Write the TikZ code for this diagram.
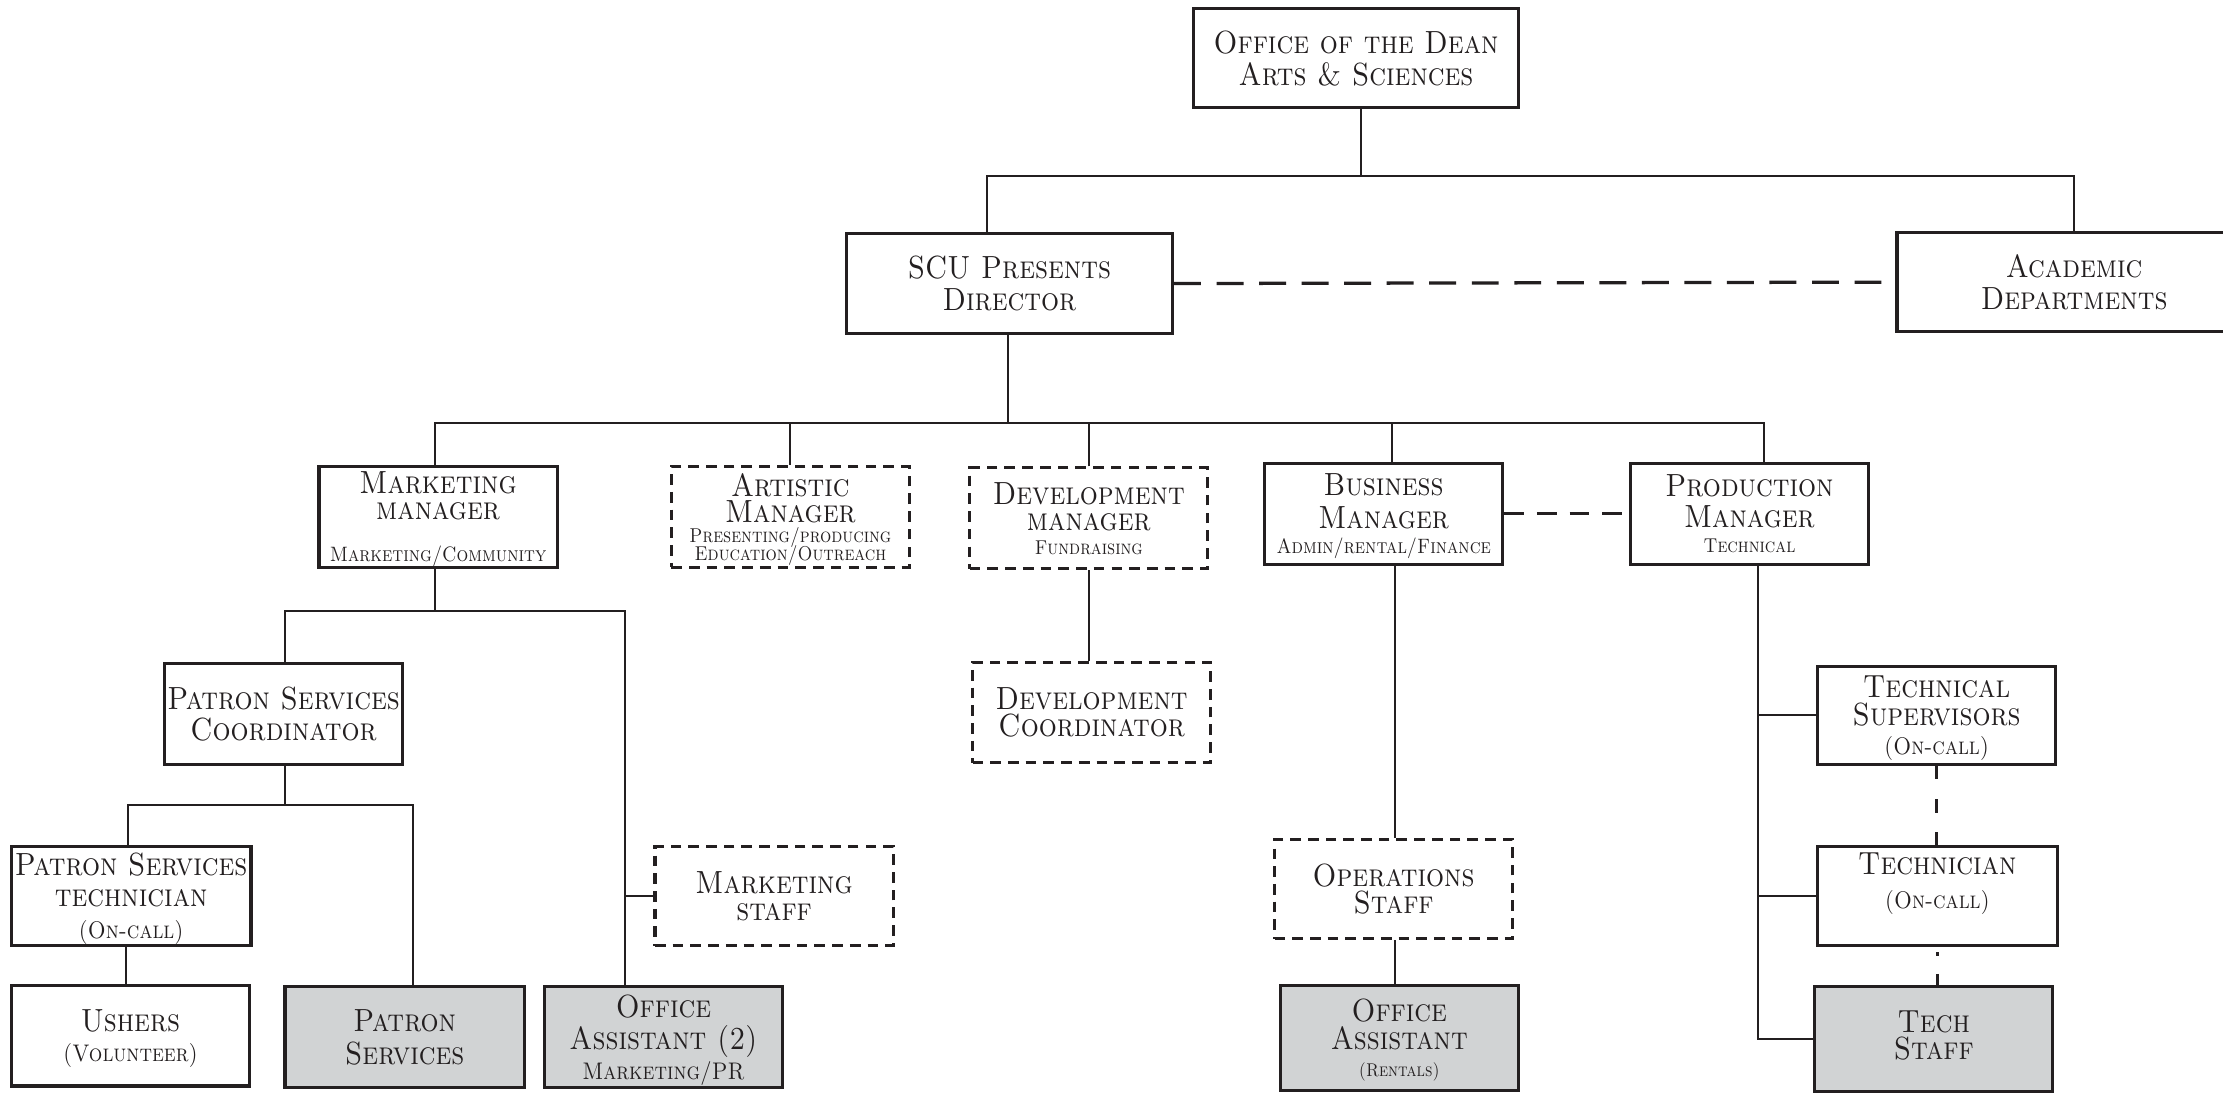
\documentclass[tikz,border=0pt]{standalone}
\usepackage{graphicx}
\definecolor{grayf}{HTML}{D1D3D4}
\definecolor{ink}{HTML}{231F20}
\newcommand\fmain{\fontsize{20}{19.1}\selectfont\scshape}
\newcommand\fsub{\fontsize{13}{15}\selectfont\scshape}
\newcommand\fsubb{\fontsize{12.5}{14}\selectfont\scshape}
\newcommand\fmid{\fontsize{15}{17}\selectfont\scshape}
\newcommand\ftiny{\fontsize{12.5}{13}\selectfont\scshape}
\newcommand\fxs{\fontsize{11.5}{13}\selectfont\scshape}
\newcommand\tl[1]{\scalebox{1}[1.13]{\raisebox{-2.8pt}[\height][\depth]{\begin{tabular}{@{}c@{}}#1\end{tabular}}}}
\tikzset{
  box/.style={draw=ink, line width=2.2pt, minimum width=168pt, minimum height=71pt,
    inner sep=0pt, font=\fmain, text=ink},
  dbox/.style={box, dash pattern=on 7.5pt off 5pt},
  gbox/.style={box, fill=grayf},
  conn/.style={draw=ink, line width=1.4pt},
  dconn/.style={draw=ink, line width=2.3pt, dash pattern=on 19pt off 11pt},
  dconnb/.style={draw=ink, line width=2.2pt, dash pattern=on 14pt off 9pt},
  dconnc/.style={draw=ink, line width=1.9pt, dash pattern=on 9.5pt off 14pt},
  dconnd/.style={draw=ink, line width=1.9pt, dash pattern=on 0pt off 3.5pt on 2.4pt off 13pt on 10pt off 5pt},
}
\begin{document}
\begin{tikzpicture}[x=1pt,y=-1pt]
\useasboundingbox[fill=white] (0,0) rectangle (1568,772.4);

% top levels
\node[box, minimum width=229pt, minimum height=70pt] (dean) at (956.5,41) {\tl{Office of the Dean\\Arts \& Sciences}};
\node[box, minimum width=230pt, minimum height=70pt] (scu) at (712,200) {\tl{SCU Presents\\[0.9pt]Director}};
\node[box, minimum width=250pt, minimum height=70pt] (acad) at (1463,199) {\tl{Academic\\Departments}};

% managers
\node[box] (mm) at (309,364.5) {\tl{Marketing\\[-2.8pt]manager\\[7pt]{\fsub Marketing/Community}}};
\node[dbox] (am) at (557.5,364.5) {\tl{Artistic\\[-3pt]Manager\\[-6.6pt]{\fsubb Presenting/producing}\\[-8.2pt]{\fsubb Education/Outreach}}};
\node[dbox] (dm) at (768,365.5) {\tl{Development\\[-2.8pt]manager\\[-4.2pt]{\ftiny Fundraising}}};
\node[box] (bm) at (976,362.5) {\tl{Business\\[0.9pt]Manager\\[-3.45pt]{\fsub Admin/rental/Finance}}};
\node[box] (pm) at (1234,362.5) {\tl{Production\\Manager\\[-3.45pt]{\ftiny Technical}}};

% third level
\node[box] (psc) at (200,503.5) {\tl{Patron Services\\Coordinator}};
\node[dbox, minimum height=70pt] (mstaff) at (546,632) {\tl{Marketing\\[-2.6pt]staff}};
\node[dbox] (dc) at (770,502.5) {\tl{Development\\[-3.2pt]Coordinator}};
\node[dbox, minimum height=70pt] (ops) at (983,627) {\tl{Operations\\[-2.6pt]Staff}};
\node[box, minimum height=69pt] (ts) at (1366,504.5) {\tl{Technical\\[-2.6pt]Supervisors\\[-0.8pt]{\fmid (On-call)}}};
\node[box, minimum height=70pt, minimum width=169pt] (tech) at (1366.5,632) {\tl{Technician\\[1.8pt]{\fmid (On-call)}\\\mbox{}}};
\node[box, minimum height=70pt, minimum width=169pt] (pst) at (92.5,632) {\tl{Patron Services\\technician\\[1pt]{\fmid (On-call)}}};

% bottom row
\node[box] (ushers) at (92,730.5) {\tl{Ushers\\[-0.8pt]{\fmid (Volunteer)}}};
\node[gbox, minimum width=169pt] (ps) at (285.5,731.5) {\tl{Patron\\[0.9pt]Services}};
\node[gbox] (oa2) at (468,731.5) {\tl{Office\\[-0.8pt]Assistant (2)\\[-0.5pt]{\fmid Marketing/PR}}};
\node[gbox, minimum height=74pt] (oar) at (987,732) {\tl{Office\\[-2.6pt]Assistant\\[-1.7pt]{\fxs (Rentals)}}};
\node[gbox, minimum height=74pt] (tstaff) at (1364,733) {\tl{Tech\\[-2.6pt]Staff\\[-14pt]\mbox{}}};

% connectors: top
\draw[conn] ([xshift=3.5pt]dean.south) -- ++(0,47) coordinate (j1);
\draw[conn] ([xshift=-16pt]scu.north) |- (j1) -| (acad.north);
\draw[dconn] (scu.east) -- (acad.west);

% director to managers
\draw[conn] ([xshift=-1pt]scu.south) -- ++(0,62) coordinate (j2);
\draw[conn] ([xshift=-2pt]mm.north) |- (j2) -| ([xshift=10pt]pm.north);
\draw[conn] (am.north) -- (am.north |- j2);
\draw[conn] (dm.north) -- (dm.north |- j2);
\draw[conn] ([xshift=6pt]bm.north) -- ([xshift=6pt]bm.north |- j2);
\draw[dconnb] (bm.east) -- (pm.west);

% marketing branch
\draw[conn] ([xshift=-2pt]mm.south) -- ++(0,30) coordinate (j3);
\draw[conn] ([xshift=1pt]psc.north) |- (j3) -| ([xshift=-27pt]oa2.north);
\coordinate (j4) at ([xshift=-27pt]oa2.north |- mstaff.west);
\draw[conn] (j4) -- (mstaff.west);

% patron services branch
\draw[conn] ([xshift=1pt]psc.south) -- ++(0,28) coordinate (j5);
\draw[conn] ([xshift=-2.5pt]pst.north) |- (j5) -| ([xshift=5.5pt]ps.north);
\draw[conn] ([xshift=-3.5pt]pst.south) -- ([xshift=-3.5pt]pst.south |- ushers.north);

% development
\draw[conn] (dm.south) -- (dm.south |- dc.north);

% business
\draw[conn] ([xshift=8pt]bm.south) -- ([xshift=8pt]bm.south |- ops.north);
\draw[conn] ([xshift=1pt]ops.south) -- ([xshift=1pt]ops.south |- oar.north);

% production
\draw[conn] ([xshift=6pt]pm.south) -- ([xshift=6pt]pm.south |- tstaff.west) coordinate (j6) -- (tstaff.west);
\draw[conn] (j6 |- ts.west) -- (ts.west);
\draw[conn] (j6 |- tech.west) -- (tech.west);
\draw[dconnc] (ts.south) -- (ts.south |- tech.north);
\draw[dconnd] (tech.south) -- (tech.south |- tstaff.north);
\end{tikzpicture}
\end{document}
